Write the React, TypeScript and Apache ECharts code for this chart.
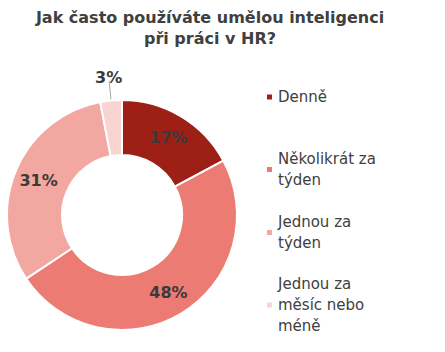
import React, { useEffect, useRef } from "react";
import * as echarts from "echarts";

const titleLines = ["Jak často používáte umělou inteligenci", "při práci v HR?"];
const categories = ["Denně", "Několikrát za týden", "Jednou za týden", "Jednou za měsíc nebo méně"];
const legendLines = [["Denně"], ["Několikrát za", "týden"], ["Jednou za", "týden"], ["Jednou za", "měsíc nebo", "méně"]];
const values = [17, 48, 31, 3];
const colors = ["#9E1F16", "#EC7B73", "#F2A7A0", "#F8D3D0"];
const legendIconCenters = [97, 159, 222, 284];

const FONT = "DejaVu Sans";
const TEXT = "#404040";
const LH = 21;

export default function App() {
  const ref = useRef<HTMLDivElement>(null);
  useEffect(() => {
    if (!ref.current) return;
    const chart = echarts.init(ref.current, undefined, { renderer: "svg" });
    const legends = categories.map((name, i) => {
      const n = legendLines[i].length;
      return {
        orient: "vertical",
        left: 265,
        top: legendIconCenters[i] - (n * LH) / 2,
        padding: 0,
        itemWidth: 7,
        itemHeight: 7,
        itemGap: 6,
        icon: "rect",
        data: [name],
        formatter: () => legendLines[i].join("\n"),
        textStyle: {
          fontFamily: FONT,
          fontSize: 15,
          color: TEXT,
          lineHeight: LH,
          padding: [(n - 1) * LH, 0, 0, 0],
        },
        selectedMode: false,
      };
    });
    chart.setOption({
      animation: false,
      title: {
        text: titleLines.join("\n"),
        left: 210,
        top: 7,
        textAlign: "center",
        padding: 0,
        textStyle: {
          fontFamily: FONT,
          fontSize: 16,
          fontWeight: "bold",
          color: TEXT,
          lineHeight: 21,
        },
      },
      legend: legends,
      series: [
        {
          type: "pie",
          center: [122, 215],
          radius: [60, 115],
          startAngle: 90,
          clockwise: true,
          avoidLabelOverlap: false,
          itemStyle: { borderColor: "#ffffff", borderWidth: 2 },
          label: {
            show: true,
            position: "inside",
            formatter: "{c}%",
            fontFamily: FONT,
            fontSize: 16,
            fontWeight: "bold",
            color: "#3a3a3a",
          },
          labelLine: { show: false },
          emphasis: { disabled: true },
          data: categories.map((name, i) => {
            const d: any = { name, value: values[i], itemStyle: { color: colors[i] } };
            if (i === 3) {
              d.label = { position: "outside", offset: [18, -3] };
              d.labelLine = { show: true, length: 20, length2: 0, lineStyle: { color: "#a6a6a6", width: 1 } };
            }
            return d;
          }),
        },
      ],
    });
    return () => chart.dispose();
  }, []);
  return <div ref={ref} style={{ position: "absolute", left: 0, top: 0, width: 445, height: 352 }} />;
}
